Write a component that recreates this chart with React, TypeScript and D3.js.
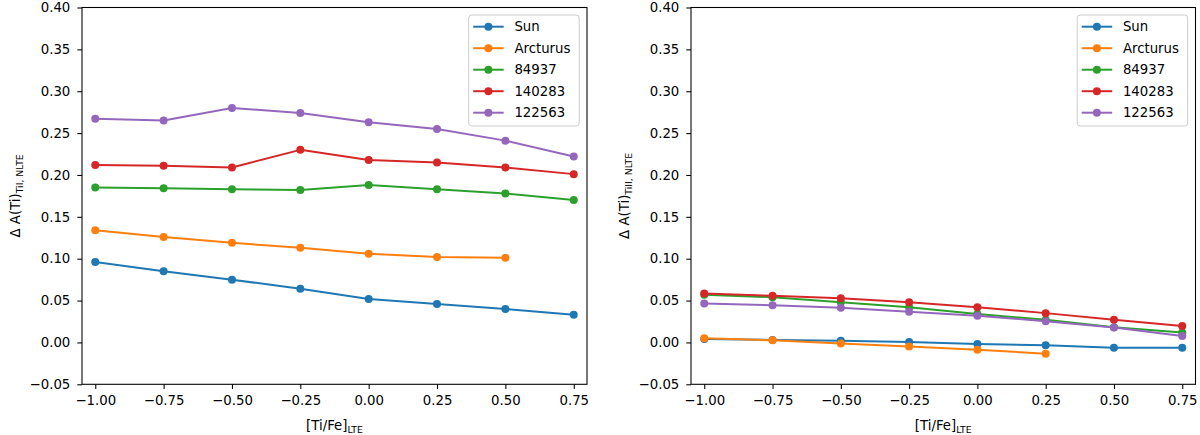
import { useEffect, useRef } from 'react';
import * as d3 from 'd3';

// [Ti/Fe]_LTE grid shared by both panels
const tiFe = [-1.0, -0.75, -0.5, -0.25, 0.0, 0.25, 0.5, 0.75];
const yTicks = [-0.05, 0.0, 0.05, 0.1, 0.15, 0.2, 0.25, 0.3, 0.35, 0.4];

const starNames = ['Sun', 'Arcturus', '84937', '140283', '122563'];
const starColors = ['#1f77b4', '#ff7f0e', '#2ca02c', '#d62728', '#9467bd'];

// Ti I corrections (left panel)
const tiISun = [0.096, 0.085, 0.075, 0.064, 0.052, 0.046, 0.040, 0.033];
const tiIArcturus = [0.134, 0.126, 0.119, 0.113, 0.106, 0.102, 0.101];
const tiI84937 = [0.185, 0.184, 0.183, 0.182, 0.188, 0.183, 0.178, 0.170];
const tiI140283 = [0.212, 0.211, 0.209, 0.230, 0.218, 0.215, 0.209, 0.201];
const tiI122563 = [0.267, 0.265, 0.280, 0.274, 0.263, 0.255, 0.241, 0.222];

// Ti II corrections (right panel)
const tiIISun = [0.004, 0.003, 0.002, 0.0005, -0.002, -0.0035, -0.0063, -0.0063];
const tiIIArcturus = [0.005, 0.0025, -0.0012, -0.0048, -0.0087, -0.0135];
const tiII84937 = [0.057, 0.054, 0.048, 0.042, 0.034, 0.027, 0.018, 0.012];
const tiII140283 = [0.0585, 0.0557, 0.0529, 0.0481, 0.0421, 0.035, 0.027, 0.0197];
const tiII122563 = [0.0465, 0.0445, 0.0414, 0.0366, 0.0318, 0.0254, 0.0179, 0.0078];

const panels = [
  {
    left: 82,
    right: 587,
    ion: 'TiI, NLTE',
    series: [tiISun, tiIArcturus, tiI84937, tiI140283, tiI122563],
  },
  {
    left: 691,
    right: 1195.5,
    ion: 'TiII, NLTE',
    series: [tiIISun, tiIIArcturus, tiII84937, tiII140283, tiII122563],
  },
];

const W = 1200;
const H = 435;
const FONT = 'DejaVu Sans, sans-serif';

export default function App() {
  const svgRef = useRef<SVGSVGElement>(null);

  useEffect(() => {
    if (!svgRef.current) return;
    const svg = d3.select(svgRef.current);
    svg.selectAll('*').remove();

    const top = 7.5;
    const bottom = 384.3;
    const y = d3.scaleLinear().domain([-0.05, 0.4]).range([bottom, top]);
    const fmt = d3.format('.2f');

    panels.forEach((p) => {
      const x = d3.scaleLinear().domain([-1.0485, 0.7985]).range([p.left, p.right]);
      const g = svg.append('g');

      // x axis
      const xAxis = g
        .append('g')
        .attr('transform', `translate(0,${bottom})`)
        .call(d3.axisBottom(x).tickValues(tiFe).tickFormat((d) => fmt(d as number)).tickSize(4.7).tickPadding(6.5));
      xAxis.select('.domain').remove();
      xAxis.selectAll('line').attr('stroke', '#000').attr('stroke-width', 1.07);
      xAxis.selectAll('text').attr('fill', '#000').style('font-size', '13.3px').style('font-family', FONT);

      // y axis
      const yAxis = g
        .append('g')
        .attr('transform', `translate(${p.left},0)`)
        .call(d3.axisLeft(y).tickValues(yTicks).tickFormat((d) => fmt(d as number)).tickSize(4.7).tickPadding(7));
      yAxis.select('.domain').remove();
      yAxis.selectAll('line').attr('stroke', '#000').attr('stroke-width', 1.07);
      yAxis.selectAll('text').attr('fill', '#000').style('font-size', '13.3px').style('font-family', FONT);

      // series
      const line = d3
        .line<number>()
        .x((_, i) => x(tiFe[i]))
        .y((d) => y(d));

      p.series.forEach((vals, s) => {
        g.append('path')
          .attr('d', line(vals))
          .attr('fill', 'none')
          .attr('stroke', starColors[s])
          .attr('stroke-width', 2)
          .attr('stroke-linejoin', 'round');
        g.selectAll(null)
          .data(vals)
          .enter()
          .append('circle')
          .attr('cx', (_, i) => x(tiFe[i]))
          .attr('cy', (d) => y(d))
          .attr('r', 4)
          .attr('fill', starColors[s]);
      });

      // frame
      g.append('rect')
        .attr('x', p.left)
        .attr('y', top)
        .attr('width', p.right - p.left)
        .attr('height', bottom - top)
        .attr('fill', 'none')
        .attr('stroke', '#000')
        .attr('stroke-width', 1.07);

      // legend
      const lw = 110.5;
      const lx = p.right - 7.8 - lw;
      const ly = 15;
      g.append('rect')
        .attr('x', lx)
        .attr('y', ly)
        .attr('width', lw)
        .attr('height', 111)
        .attr('rx', 3)
        .attr('fill', '#fff')
        .attr('fill-opacity', 0.8)
        .attr('stroke', '#cccccc')
        .attr('stroke-width', 1);
      starNames.forEach((name, i) => {
        const ry = 26.7 + i * 21.5;
        g.append('line')
          .attr('x1', lx + 4.5)
          .attr('x2', lx + 35)
          .attr('y1', ry)
          .attr('y2', ry)
          .attr('stroke', starColors[i])
          .attr('stroke-width', 2);
        g.append('circle').attr('cx', lx + 19.7).attr('cy', ry).attr('r', 4).attr('fill', starColors[i]);
        g.append('text')
          .attr('x', lx + 45.7)
          .attr('y', ry)
          .attr('dy', '0.36em')
          .style('font-size', '13.3px')
          .style('font-family', FONT)
          .text(name);
      });

      // x label
      const xl = g
        .append('text')
        .attr('x', (p.left + p.right) / 2)
        .attr('y', 430)
        .attr('text-anchor', 'middle')
        .style('font-size', '13.3px')
        .style('font-family', FONT);
      xl.append('tspan').text('[Ti/Fe]');
      xl.append('tspan').attr('dy', 2.5).style('font-size', '9.3px').text('LTE');

      // y label
      const yl = g
        .append('text')
        .attr('transform', `translate(${p.left - 62},${(top + bottom) / 2}) rotate(-90)`)
        .attr('text-anchor', 'middle')
        .style('font-size', '13.3px')
        .style('font-family', FONT);
      yl.append('tspan').text('Δ A(Ti)');
      yl.append('tspan').attr('dy', 2.5).style('font-size', '9.3px').text(p.ion);
    });
  }, []);

  return (
    <div style={{ position: 'absolute', left: 0, top: 0 }}>
      <svg ref={svgRef} width={W} height={H} style={{ display: 'block', background: '#fff' }} />
    </div>
  );
}
